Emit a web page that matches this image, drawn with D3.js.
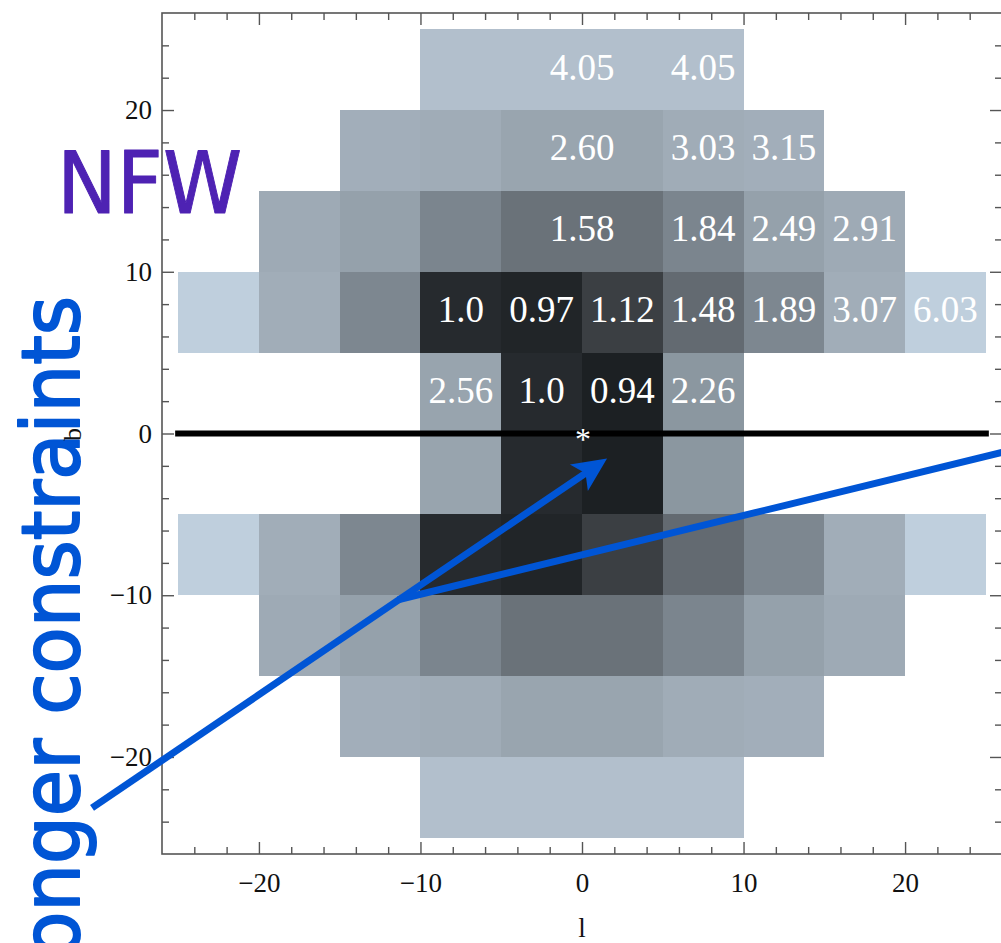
<!DOCTYPE html>
<html>
<head>
<meta charset="utf-8">
<script src="https://cdn.jsdelivr.net/npm/d3@7"></script>
<style>
  html, body { margin: 0; padding: 0; background: #fff; }
  svg { display: block; }
</style>
</head>
<body>
<svg id="chart" width="1001" height="943"></svg>
<script>
// ---------------- DATA ----------------
// Left edges (l, deg) of the 5-degree cells
const lEdges = [-25, -20, -15, -10, -5, 0, 5, 10, 15, 20];
// Lower edges (b, deg) of the cell rows, from top to bottom
const bEdges = [20, 15, 10, 5, 0, -5, -10, -15, -20, -25];
// Cell values per row (null = no cell)
const row20  = [null, null, null, 4.05, 4.05, 4.05, 4.05, null, null, null];
const row15  = [null, null, 3.15, 3.03, 2.60, 2.60, 3.03, 3.15, null, null];
const row10  = [null, 2.91, 2.49, 1.84, 1.58, 1.58, 1.84, 2.49, 2.91, null];
const row5   = [6.03, 3.07, 1.89, 1.0, 0.97, 1.12, 1.48, 1.89, 3.07, 6.03];
const row0   = [null, null, null, 2.56, 1.0, 0.94, 2.26, null, null, null];
const rowM5  = [null, null, null, 2.56, 1.0, 0.94, 2.26, null, null, null];
const rowM10 = [6.03, 3.07, 1.89, 1.0, 0.97, 1.12, 1.48, 1.89, 3.07, 6.03];
const rowM15 = [null, 2.91, 2.49, 1.84, 1.58, 1.58, 1.84, 2.49, 2.91, null];
const rowM20 = [null, null, 3.15, 3.03, 2.60, 2.60, 3.03, 3.15, null, null];
const rowM25 = [null, null, null, 4.05, 4.05, 4.05, 4.05, null, null, null];
const rows = [row20, row15, row10, row5, row0, rowM5, rowM10, rowM15, rowM20, rowM25];

// Printed labels: [l, b, text]
const labelL    = [0, 7.5, 0, 7.5, 12.5, 0, 7.5, 12.5, 17.5, -7.5, -2.5, 2.5, 7.5, 12.5, 17.5, 22.5, -7.5, -2.5, 2.5, 7.5];
const labelB    = [22.5, 22.5, 17.5, 17.5, 17.5, 12.5, 12.5, 12.5, 12.5, 7.5, 7.5, 7.5, 7.5, 7.5, 7.5, 7.5, 2.5, 2.5, 2.5, 2.5];
const labelText = ["4.05", "4.05", "2.60", "3.03", "3.15", "1.58", "1.84", "2.49", "2.91",
                   "1.0", "0.97", "1.12", "1.48", "1.89", "3.07", "6.03",
                   "2.56", "1.0", "0.94", "2.26"];

// Colour scale stops
const colorStops = [0.94, 1.12, 1.48, 1.84, 2.26, 2.56, 3.07, 4.05, 6.03];
const colorRange = ["#1c2023", "#3b3f43", "#636a71", "#7b858e", "#8b97a0", "#98a4ae", "#a1adb8", "#b2bfcc", "#bfcfdd"];

// Axis ticks
const majorTicks = [-20, -10, 0, 10, 20];
const minorTicks = [-24, -22, -18, -16, -14, -12, -8, -6, -4, -2, 2, 4, 6, 8, 12, 14, 16, 18, 22, 24];
const tickLabels = ["\u221220", "\u221210", "0", "10", "20"];

// Annotation geometry (data coordinates)
const arrowStart = [-30.33, -23.15];
const arrowTip = [1.55, -1.55];
const branchStart = [-11.39, -10.28];
const branchEnd = [26.5, -1.05];

// ---------------- DRAW ----------------
const svg = d3.select("#chart");
const x = d3.scaleLinear().domain([-26, 26]).range([162, 1002]);
const y = d3.scaleLinear().domain([-26, 26]).range([854, 13]);
const color = d3.scaleLinear().domain(colorStops).range(colorRange).interpolate(d3.interpolateRgb);
const cellW = 5;

const cells = [];
rows.forEach((r, i) => r.forEach((v, j) => {
  if (v !== null) cells.push({ l: lEdges[j], b: bEdges[i], v });
}));

svg.append("g").attr("shape-rendering", "crispEdges")
  .selectAll("rect").data(cells).join("rect")
  .attr("x", d => x(d.l))
  .attr("y", d => y(d.b + cellW))
  .attr("width", d => x(d.l + cellW) - x(d.l))
  .attr("height", d => y(d.b) - y(d.b + cellW))
  .attr("fill", d => color(d.v));

// NFW text (under frame)
svg.append("text")
  .attr("x", 57).attr("y", 213)
  .attr("font-family", "DejaVu Sans, sans-serif")
  .attr("font-size", 86)
  .attr("textLength", 185).attr("lengthAdjust", "spacingAndGlyphs")
  .attr("fill", "#4e22b3").attr("stroke", "#4e22b3").attr("stroke-width", 1)
  .attr("stroke-linejoin", "round")
  .text("NFW");

// cell labels
const labels = labelText.map((t, i) => ({ l: labelL[i], b: labelB[i], t }));
svg.append("g").selectAll("text").data(labels).join("text")
  .attr("x", d => x(d.l))
  .attr("y", d => y(d.b) + 10)
  .attr("text-anchor", "middle")
  .attr("font-family", "Liberation Serif, Times New Roman, serif")
  .attr("font-size", 37)
  .attr("fill", "#ffffff")
  .text(d => d.t);

// b = 0 line
svg.append("line")
  .attr("x1", x(-25)).attr("x2", x(25))
  .attr("y1", y(0)).attr("y2", y(0))
  .attr("stroke", "#000").attr("stroke-width", 6).attr("stroke-linecap", "square");

// asterisk at origin
svg.append("text")
  .attr("x", x(0) + 1).attr("y", y(0) + 16)
  .attr("text-anchor", "middle")
  .attr("font-family", "Liberation Serif, serif")
  .attr("font-size", 32)
  .attr("fill", "#fff")
  .text("*");

// frame and axes
const frameColor = "#555";
svg.append("rect")
  .attr("x", x(-26)).attr("y", y(26))
  .attr("width", x(26) - x(-26)).attr("height", y(-26) - y(26))
  .attr("fill", "none").attr("stroke", frameColor).attr("stroke-width", 1.6);

function styleAxis(g) {
  g.select(".domain").remove();
  g.selectAll(".tick line").attr("stroke", frameColor).attr("stroke-width", 1.4);
  g.selectAll("text").attr("font-family", "Liberation Serif, Times New Roman, serif")
    .attr("font-size", 27).attr("fill", "#111");
}

// bottom
svg.append("g").attr("transform", `translate(0,${y(-26)})`)
  .call(d3.axisBottom(x).tickValues(majorTicks).tickFormat((d, i) => tickLabels[i]).tickSizeInner(-12).tickSizeOuter(0).tickPadding(19))
  .call(styleAxis);
svg.append("g").attr("transform", `translate(0,${y(-26)})`)
  .call(d3.axisBottom(x).tickValues(minorTicks).tickFormat("").tickSizeInner(-7).tickSizeOuter(0))
  .call(styleAxis);
// top
svg.append("g").attr("transform", `translate(0,${y(26)})`)
  .call(d3.axisTop(x).tickValues(majorTicks).tickFormat("").tickSizeInner(-12).tickSizeOuter(0))
  .call(styleAxis);
svg.append("g").attr("transform", `translate(0,${y(26)})`)
  .call(d3.axisTop(x).tickValues(minorTicks).tickFormat("").tickSizeInner(-7).tickSizeOuter(0))
  .call(styleAxis);
// left
svg.append("g").attr("transform", `translate(${x(-26)},0)`)
  .call(d3.axisLeft(y).tickValues(majorTicks).tickFormat((d, i) => tickLabels[i]).tickSizeInner(-12).tickSizeOuter(0).tickPadding(10))
  .call(styleAxis);
svg.append("g").attr("transform", `translate(${x(-26)},0)`)
  .call(d3.axisLeft(y).tickValues(minorTicks).tickFormat("").tickSizeInner(-7).tickSizeOuter(0))
  .call(styleAxis);
// right
svg.append("g").attr("transform", `translate(${x(26)},0)`)
  .call(d3.axisRight(y).tickValues(majorTicks).tickFormat("").tickSizeInner(-12).tickSizeOuter(0))
  .call(styleAxis);
svg.append("g").attr("transform", `translate(${x(26)},0)`)
  .call(d3.axisRight(y).tickValues(minorTicks).tickFormat("").tickSizeInner(-7).tickSizeOuter(0))
  .call(styleAxis);

// axis titles
svg.append("text")
  .attr("x", x(0)).attr("y", 937)
  .attr("text-anchor", "middle")
  .attr("font-family", "Liberation Serif, serif").attr("font-size", 27).attr("fill", "#111")
  .text("l");

// blue annotation text
const blue = "#0055d5";
svg.append("text")
  .attr("transform", "translate(79,296) rotate(-90)")
  .attr("text-anchor", "end")
  .attr("font-family", "DejaVu Sans, sans-serif")
  .attr("font-size", 80)
  .attr("textLength", 760).attr("lengthAdjust", "spacingAndGlyphs")
  .attr("fill", blue).attr("stroke", blue).attr("stroke-width", 2).attr("stroke-linejoin", "round")
  .text("stronger constraints");

svg.append("text")
  .attr("transform", `translate(81,${y(0) + 1}) rotate(-90)`)
  .attr("text-anchor", "middle")
  .attr("font-family", "Liberation Serif, serif").attr("font-size", 26).attr("fill", "#111")
  .text("b");

// blue arrows
const p0 = [x(arrowStart[0]), y(arrowStart[1])];
const p1 = [x(arrowTip[0]), y(arrowTip[1])];
const dx = p1[0] - p0[0], dy = p1[1] - p0[1];
const len = Math.hypot(dx, dy);
const ux = dx / len, uy = dy / len;
const nx = -uy, ny = ux;
const headLen = 34, headHalf = 16, notch = 26;
const notchPt = [p1[0] - notch * ux, p1[1] - notch * uy];
const base = [p1[0] - headLen * ux, p1[1] - headLen * uy];

svg.append("line")
  .attr("x1", p0[0]).attr("y1", p0[1])
  .attr("x2", notchPt[0] + 2 * ux).attr("y2", notchPt[1] + 2 * uy)
  .attr("stroke", blue).attr("stroke-width", 7);

svg.append("polygon")
  .attr("points", [
    p1,
    [base[0] + headHalf * nx, base[1] + headHalf * ny],
    notchPt,
    [base[0] - headHalf * nx, base[1] - headHalf * ny]
  ].map(p => p.join(",")).join(" "))
  .attr("fill", blue);

svg.append("line")
  .attr("x1", x(branchStart[0])).attr("y1", y(branchStart[1]))
  .attr("x2", x(branchEnd[0])).attr("y2", y(branchEnd[1]))
  .attr("stroke", blue).attr("stroke-width", 7);
</script>
</body>
</html>
